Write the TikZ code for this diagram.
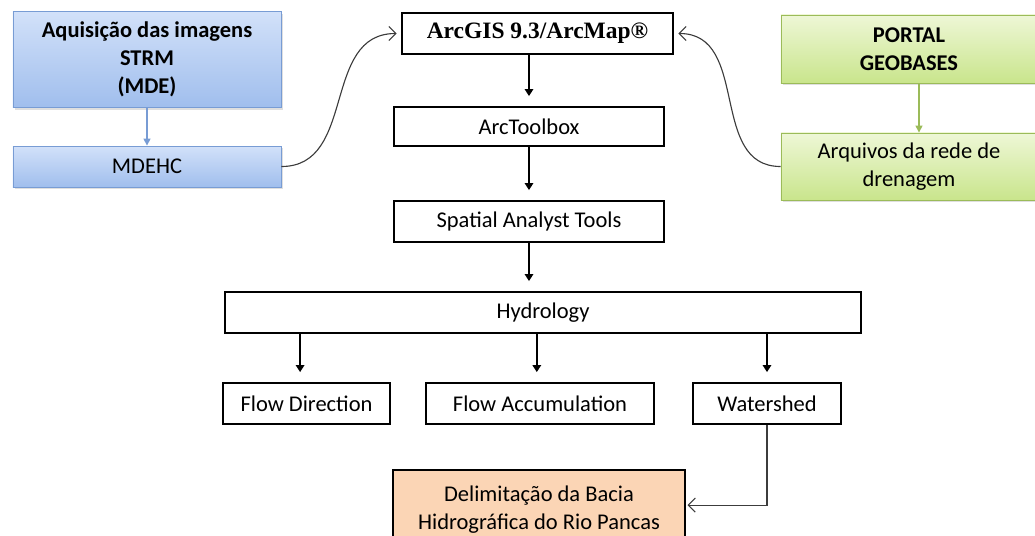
\documentclass[tikz,border=0pt]{standalone}
\usepackage{fontspec}
\setmainfont{Carlito}
\newfontfamily\timesfont{Liberation Serif}
\usetikzlibrary{arrows.meta}
\usetikzlibrary{positioning}
\usetikzlibrary{shadows}
\definecolor{bluetop}{RGB}{210, 225, 249}
\definecolor{bluebot}{RGB}{160, 190, 237}
\definecolor{blueline}{RGB}{120, 156, 212}
\definecolor{greentop}{RGB}{238, 247, 214}
\definecolor{greenbot}{RGB}{201, 229, 140}
\definecolor{greenline}{RGB}{155, 187, 89}
\definecolor{peach}{RGB}{251, 213, 181}
\definecolor{curvegray}{RGB}{60, 60, 60}

\tikzset{
    plainbox/.style   = {draw=black, line width=1.5pt, fill=white, inner sep=0pt, align=center},
    bluebox/.style    = {draw=blueline, line width=0.6pt, top color=bluetop, bottom color=bluebot,
                         inner sep=0pt, align=center,
                         drop shadow={opacity=0.25, shadow xshift=1.5pt, shadow yshift=-1.5pt}},
    greenbox/.style   = {draw=greenline, line width=0.6pt, top color=greentop, bottom color=greenbot,
                         inner sep=0pt, align=center,
                         drop shadow={opacity=0.25, shadow xshift=1.5pt, shadow yshift=-1.5pt}},
    resultbox/.style  = {draw=black, line width=1.5pt, fill=peach, inner sep=0pt, align=center},
    boldtext/.style   = {font=\fontsize{16}{20}\selectfont\bfseries},
    flowarrow/.style  = {line width=1.5pt, -{Triangle[length=5pt, width=6pt]}, shorten >=7pt},
    curvearrow/.style = {curvegray, line width=0.8pt, -{Straight Barb[length=5pt, width=10pt]}},
}

\begin{document}
\begin{tikzpicture}[x=0.025cm, y=-0.025cm, font=\fontsize{16}{20}\selectfont]
    \useasboundingbox (0,0) rectangle (1035,535);
    \begin{scope}
    \clip (0,0) rectangle (1035,535);

    % left column
    \node[bluebox, boldtext, minimum width=6.7cm, minimum height=2.4cm] (aquis) at (147,59.5)
        {Aquisição das imagens\\STRM\\(MDE)};
    \node[bluebox, minimum width=6.7cm, minimum height=1.025cm] (mdehc) at (147,166.5) {MDEHC};

    % right column
    \node[greenbox, boldtext, minimum width=6.4cm, minimum height=1.7cm] (portal) at (909,49)
        {PORTAL\\GEOBASES};
    \node[greenbox, minimum width=6.4cm, minimum height=1.675cm] (arquivos) at (909,166.5)
        {Arquivos da rede de\\drenagem};

    % main column
    \node[plainbox, font=\timesfont\bfseries\fontsize{16.7}{20}\selectfont,
          minimum width=6.775cm, minimum height=1.025cm] (arcgis) at (537.5,33.5) {ArcGIS 9.3/ArcMap®};
    \node[plainbox, minimum width=6.75cm, minimum height=0.975cm] (toolbox) at (529,126.5) {ArcToolbox};
    \node[plainbox, minimum width=6.75cm, minimum height=1.025cm] (spatial) at (529,221.5) {Spatial Analyst Tools};
    \node[plainbox, minimum width=15.9cm, minimum height=1.025cm] (hydro) at (543,312.5) {Hydrology};

    \node[plainbox, minimum width=4.175cm, minimum height=1.025cm] (flowdir) at (306.5,403.5) {Flow Direction};
    \node[plainbox, minimum width=5.7cm, minimum height=1.025cm] (flowacc) at (540,403.5) {Flow Accumulation};
    \node[plainbox, minimum width=3.7cm, minimum height=1.025cm] (wshed) at (767,403.5) {Watershed};

    \node[resultbox, minimum width=7.3cm, minimum height=1.975cm] (bacia) at (539,509.5)
        {Delimitação da Bacia\\Hidrográfica do Rio Pancas};

    % arrow entry points
    \coordinate (dirin) at ([xshift=-0.16cm]flowdir.north);
    \coordinate (accin) at ([xshift=-0.08cm]flowacc.north);
    \coordinate (gin)   at ([xshift=0.25cm]arquivos.north);

    % connectors
    \draw[blueline, line width=1pt, -{Triangle[length=5pt, width=5pt]}] (aquis.south) -- (mdehc.north);
    \draw[greenline, line width=1pt, -{Triangle[length=5pt, width=5pt]}] (portal.south -| gin) -- (gin);

    \draw[curvearrow] (mdehc.east) to[out=0, in=180, looseness=1.1] ([xshift=-3pt]arcgis.west);
    \draw[curvearrow] (arquivos.west) to[out=180, in=0, looseness=1.1] ([xshift=3pt]arcgis.east);

    \draw[flowarrow] (arcgis.south -| toolbox.north) -- (toolbox.north);
    \draw[flowarrow] (toolbox.south) -- (spatial.north);
    \draw[flowarrow] (spatial.south) -- (spatial.south |- hydro.north);

    \draw[flowarrow] (hydro.south -| dirin) -- (dirin);
    \draw[flowarrow] (hydro.south -| accin) -- (accin);
    \draw[flowarrow] (hydro.south -| wshed.north) -- (wshed.north);

    \draw[curvearrow] (wshed.south) |- ([xshift=1pt,yshift=0.11cm]bacia.east);
    \end{scope}
\end{tikzpicture}
\end{document}
